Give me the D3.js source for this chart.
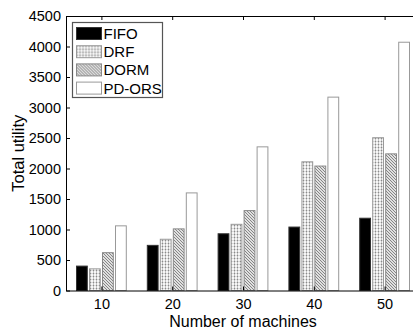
<!DOCTYPE html>
<html lang="en">
<head>
    <meta charset="UTF-8">
    <title>Total utility vs number of machines</title>
    <style>
        body {
            margin: 0;
            background-color: #fff;
            font-family: "Liberation Sans", Arial, sans-serif;
        }
        text {
            fill: #000;
        }
    </style>
    <script src="https://d3js.org/d3.v7.min.js"></script>
</head>
<body>
    <div id="chart"></div>

    <script>
        const machines = [10, 20, 30, 40, 50];
        const series = ["FIFO", "DRF", "DORM", "PD-ORS"];
        const fifo = [400, 740, 930, 1040, 1185];
        const drf = [355, 840, 1085, 2110, 2505];
        const dorm = [620, 1010, 1310, 2040, 2240];
        const pdors = [1060, 1600, 2355, 3170, 4070];
        const yTicks = [0, 500, 1000, 1500, 2000, 2500, 3000, 3500, 4000, 4500];

        const values = { "FIFO": fifo, "DRF": drf, "DORM": dorm, "PD-ORS": pdors };

        const width = 413;
        const height = 331;
        const margin = { top: 16, left: 66 };
        const plotW = 354;   // x axis runs past the right edge of the picture
        const plotH = 274.5;

        const svg = d3.select("#chart").append("svg")
            .attr("width", width)
            .attr("height", height)
            .style("display", "block");

        // fill patterns for the hatched bars
        const defs = svg.append("defs");
        const dots = defs.append("pattern")
            .attr("id", "dots")
            .attr("patternUnits", "userSpaceOnUse")
            .attr("width", 3).attr("height", 3);
        dots.append("rect").attr("width", 3).attr("height", 3).attr("fill", "#f6f6f6");
        dots.append("rect").attr("width", 1).attr("height", 3).attr("fill", "#c4c4c4");
        dots.append("rect").attr("width", 3).attr("height", 1).attr("fill", "#d8d8d8");
        dots.append("rect").attr("width", 1).attr("height", 1).attr("fill", "#8a8a8a");

        const hatch = defs.append("pattern")
            .attr("id", "hatch")
            .attr("patternUnits", "userSpaceOnUse")
            .attr("width", 3).attr("height", 3);
        hatch.append("rect").attr("width", 3).attr("height", 3).attr("fill", "#e0e0e0");
        hatch.append("path")
            .attr("d", "M-1,-1 L4,4 M-1,2 L1,4 M2,-1 L4,1")
            .attr("stroke", "#7a7a7a")
            .attr("stroke-width", 0.9);

        const fills = { "FIFO": "#000", "DRF": "url(#dots)", "DORM": "url(#hatch)", "PD-ORS": "#fff" };
        const strokes = { "FIFO": "#333", "DRF": "#999", "DORM": "#888", "PD-ORS": "#999" };

        const x = d3.scaleLinear().domain([5, 55]).range([margin.left, margin.left + plotW]);
        const y = d3.scaleLinear().domain([0, 4500]).range([margin.top + plotH, margin.top]);
        const inner = d3.scaleBand().domain(series).range([-26, 26])
            .paddingInner(0.17).paddingOuter(0.085);

        const g = svg.append("g");

        // bars
        series.forEach(s => {
            g.append("g")
                .selectAll("rect")
                .data(machines.map((m, i) => ({ m: m, v: values[s][i] })))
                .enter().append("rect")
                .attr("x", d => x(d.m) + inner(s))
                .attr("y", d => y(d.v))
                .attr("width", inner.bandwidth())
                .attr("height", d => y(0) - y(d.v))
                .attr("fill", fills[s])
                .attr("stroke", strokes[s])
                .attr("stroke-width", 1);
        });

        // axes (ticks pointing inward, box on top)
        const xAxis = g.append("g")
            .attr("transform", `translate(0,${y(0)})`)
            .call(d3.axisBottom(x).tickValues(machines).tickSizeInner(-4).tickSizeOuter(0).tickPadding(8));
        const xTop = g.append("g")
            .attr("transform", `translate(0,${margin.top})`)
            .call(d3.axisTop(x).tickValues(machines).tickSizeInner(-4).tickSizeOuter(0).tickFormat(""));
        const yAxis = g.append("g")
            .attr("transform", `translate(${margin.left},0)`)
            .call(d3.axisLeft(y).tickValues(yTicks).tickFormat(d3.format("d"))
                .tickSizeInner(-4).tickSizeOuter(0).tickPadding(5));

        [xAxis, xTop, yAxis].forEach(a => {
            a.select(".domain").attr("stroke", "#000").attr("stroke-width", 1);
            a.selectAll(".tick line").attr("stroke", "#000");
            a.selectAll("text")
                .attr("font-family", "'Liberation Sans', Arial, sans-serif")
                .attr("font-size", "14.5px")
                .attr("fill", "#000");
        });

        // axis titles
        svg.append("text")
            .attr("x", 243)
            .attr("y", 327)
            .attr("text-anchor", "middle")
            .attr("font-size", "16px")
            .text("Number of machines");

        svg.append("text")
            .attr("transform", `translate(24,${(y(0) + y(4500)) / 2}) rotate(-90)`)
            .attr("text-anchor", "middle")
            .attr("font-size", "16.5px")
            .text("Total utility");

        // legend
        const legend = svg.append("g").attr("transform", "translate(72.5,22.5)");
        legend.append("rect")
            .attr("width", 90).attr("height", 75)
            .attr("fill", "#fff")
            .attr("stroke", "#555")
            .attr("stroke-width", 1.2);

        const item = legend.selectAll(".item")
            .data(series)
            .enter().append("g")
            .attr("class", "item")
            .attr("transform", (d, i) => `translate(4,${5 + i * 18.2})`);

        item.append("rect")
            .attr("width", 25).attr("height", 12)
            .attr("fill", d => fills[d])
            .attr("stroke", d => strokes[d]);

        item.append("text")
            .attr("x", 27)
            .attr("y", 11.5)
            .attr("font-size", "15px")
            .text(d => d);
    </script>
</body>
</html>
